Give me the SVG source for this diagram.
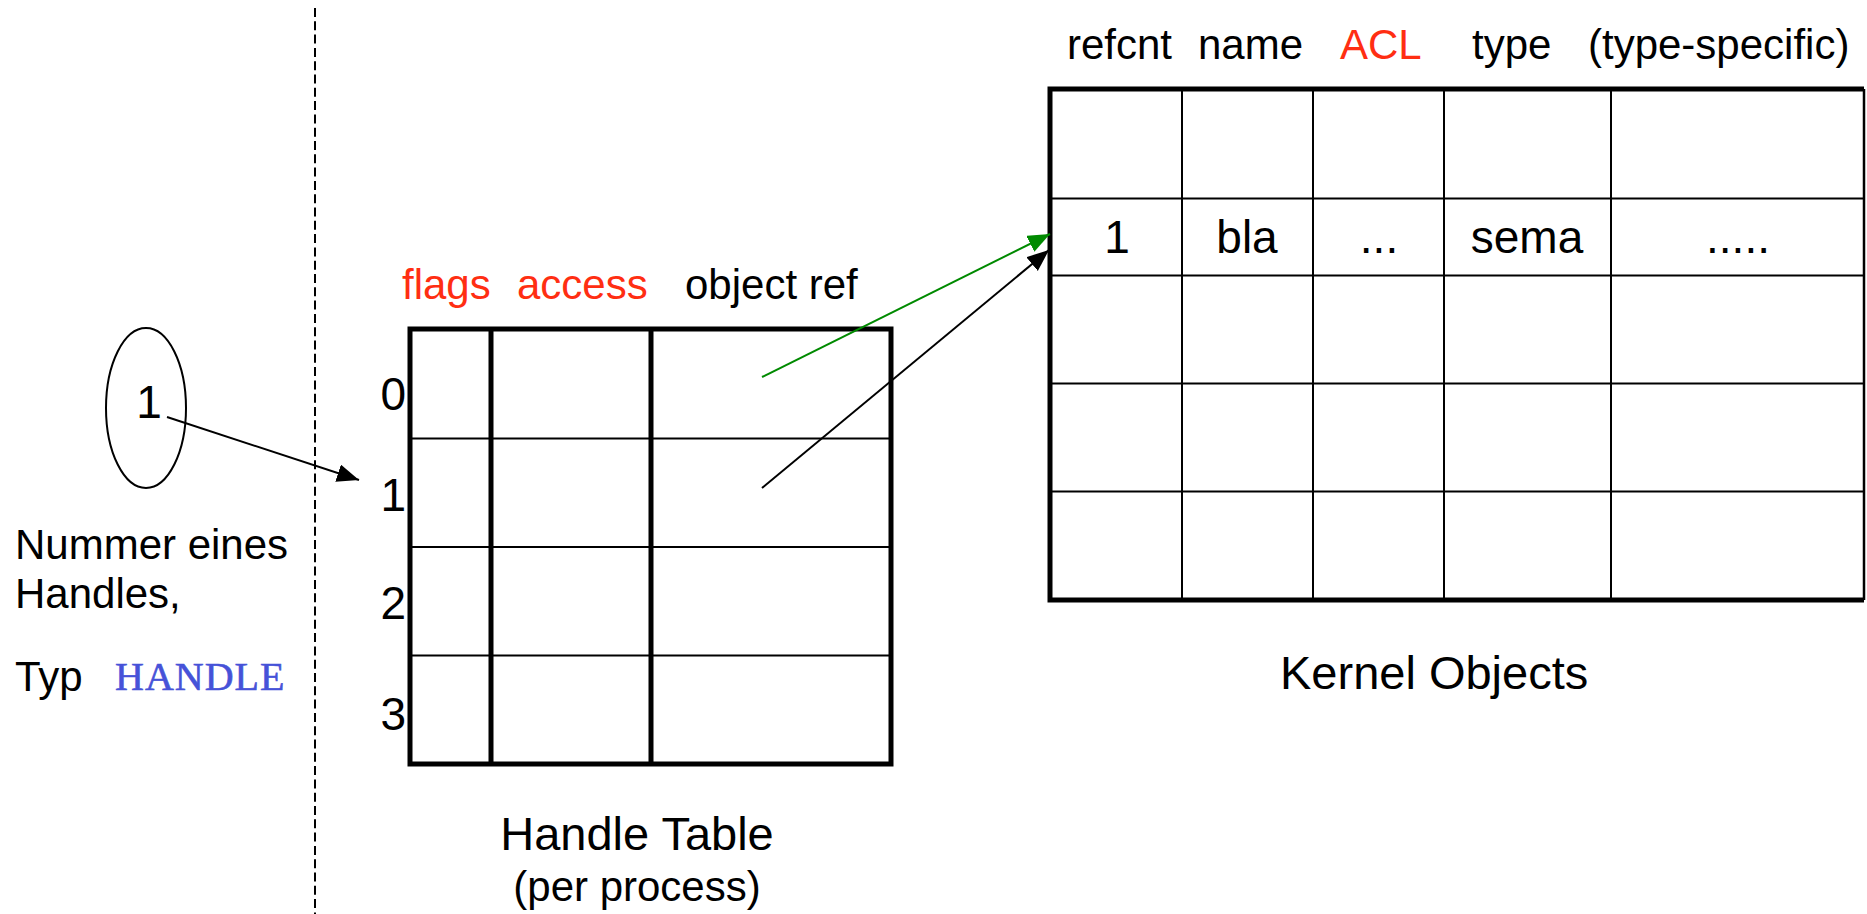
<svg xmlns="http://www.w3.org/2000/svg" width="1867" height="914" viewBox="0 0 1867 914">
  <style>
    text { font-family: "Liberation Sans", Arial, sans-serif; fill: #000; }
    .hdr { font-size: 42px; }
    .red { fill: #ff2e12; }
    .cell { font-size: 46px; text-anchor: middle; }
    .idx { font-size: 46px; text-anchor: end; }
    .note { font-size: 42px; }
    .title { font-size: 47px; }
    .code { font-family: "Liberation Serif", serif; font-size: 40px; letter-spacing: 1px; fill: #4652d8; stroke: #4652d8; stroke-width: 0.6; }
    .thick { stroke: #000; stroke-width: 5; fill: none; }
    .thin { stroke: #000; stroke-width: 2; fill: none; }
    .wire { stroke: #000; stroke-width: 2; fill: none; }
  </style>
  <defs>
    <marker id="head" markerUnits="userSpaceOnUse" markerWidth="24" markerHeight="20" refX="22" refY="9" orient="auto">
      <path d="M0,0 L22,9 L0,18 z" fill="#000"/>
    </marker>
    <marker id="head-green" markerUnits="userSpaceOnUse" markerWidth="24" markerHeight="20" refX="22" refY="9" orient="auto">
      <path d="M0,0 L22,9 L0,18 z" fill="#008a00"/>
    </marker>
  </defs>

  <rect width="1867" height="914" fill="#fff"/>

  <!-- process / kernel boundary -->
  <line x1="315" y1="8" x2="315" y2="914" stroke="#000" stroke-width="2" stroke-dasharray="9 4.3"/>

  <!-- handle value -->
  <g id="handle-value">
    <ellipse cx="146" cy="408" rx="40" ry="80" class="wire"/>
    <text x="149" y="418" class="cell">1</text>
    <text x="15" y="559" class="note">Nummer eines</text>
    <text x="15" y="608" class="note">Handles,</text>
    <text x="15" y="691" class="note">Typ</text>
    <text x="115" y="690" class="code">HANDLE</text>
  </g>

  <!-- per-process handle table -->
  <g id="handle-table">
    <text x="402" y="299" class="hdr red">flags</text>
    <text x="517" y="299" class="hdr red">access</text>
    <text x="685" y="299" class="hdr">object ref</text>
    <line x1="410" y1="438.5" x2="891" y2="438.5" class="thin"/>
    <line x1="410" y1="547" x2="891" y2="547" class="thin"/>
    <line x1="410" y1="655.5" x2="891" y2="655.5" class="thin"/>
    <line x1="491" y1="329" x2="491" y2="764" class="thick" stroke-width="4.5"/>
    <line x1="651" y1="329" x2="651" y2="764" class="thick" stroke-width="4.5"/>
    <rect x="410" y="329" width="481" height="435" class="thick"/>
    <text x="406" y="410" class="idx">0</text>
    <text x="406" y="511" class="idx">1</text>
    <text x="406" y="619" class="idx">2</text>
    <text x="406" y="730" class="idx">3</text>
    <text x="637" y="850" class="title" text-anchor="middle">Handle Table</text>
    <text x="637" y="901" class="note" text-anchor="middle">(per process)</text>
  </g>

  <!-- kernel object table -->
  <g id="kernel-objects">
    <text x="1067" y="59" class="hdr">refcnt</text>
    <text x="1198" y="59" class="hdr">name</text>
    <text x="1340" y="59" class="hdr red">ACL</text>
    <text x="1472" y="59" class="hdr">type</text>
    <text x="1588" y="59" class="hdr">(type-specific)</text>
    <g class="thin">
      <line x1="1050" y1="198.5" x2="1864" y2="198.5"/>
      <line x1="1050" y1="275.5" x2="1864" y2="275.5"/>
      <line x1="1050" y1="383.5" x2="1864" y2="383.5"/>
      <line x1="1050" y1="491.5" x2="1864" y2="491.5"/>
      <line x1="1182" y1="89" x2="1182" y2="600"/>
      <line x1="1313" y1="89" x2="1313" y2="600"/>
      <line x1="1444" y1="89" x2="1444" y2="600"/>
      <line x1="1611" y1="89" x2="1611" y2="600"/>
      <line x1="1864" y1="89" x2="1864" y2="600" stroke-width="2.5"/>
    </g>
    <path d="M1864,89 H1050 V600 H1864" class="thick"/>
    <text x="1117" y="253" class="cell">1</text>
    <text x="1247" y="253" class="cell">bla</text>
    <text x="1379" y="253" class="cell">...</text>
    <text x="1527" y="253" class="cell">sema</text>
    <text x="1738" y="253" class="cell">.....</text>
    <text x="1280" y="689" class="title">Kernel Objects</text>
  </g>

  <!-- references -->
  <g id="connectors">
    <line x1="167" y1="417" x2="359" y2="480" class="wire" marker-end="url(#head)"/>
    <line x1="762" y1="377" x2="1050" y2="234" stroke="#008a00" stroke-width="2" marker-end="url(#head-green)"/>
    <line x1="762" y1="488" x2="1049" y2="250" class="wire" marker-end="url(#head)"/>
  </g>
</svg>
